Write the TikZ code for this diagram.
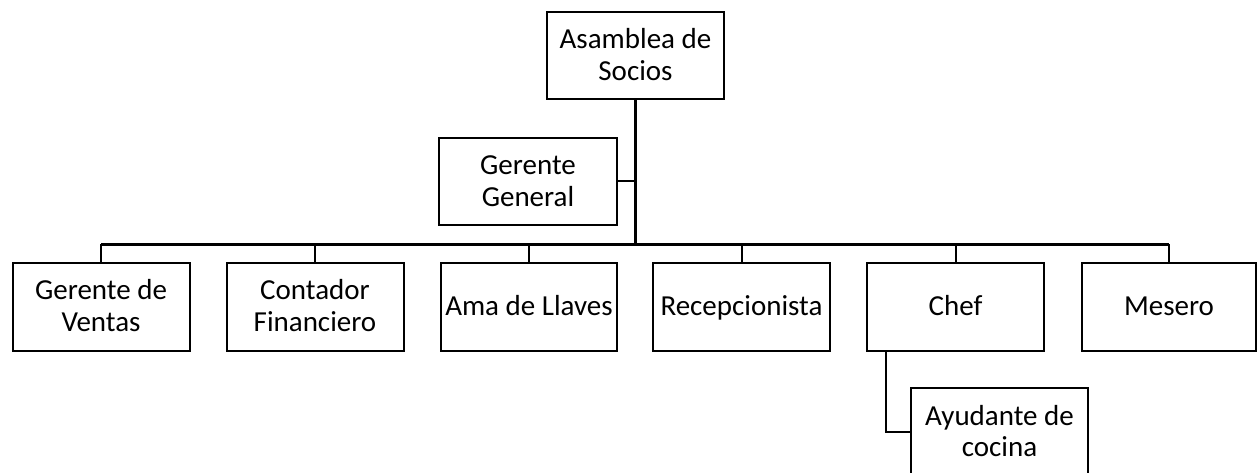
\documentclass[tikz,border=0pt]{standalone}
\usepackage{fontspec}
\setmainfont{Carlito}
\newcommand\mytopstrut{\rule{0pt}{24pt}}
\newcommand\mybotstrut{\rule[-6pt]{0pt}{6pt}}
\begin{document}
\begin{tikzpicture}[x=1pt,y=-1pt,
  orgbox/.style={draw=black,line width=2pt,rectangle,inner sep=0pt,
    minimum width=177pt,minimum height=89pt,align=center,
    font=\fontsize{29}{31.5}\selectfont},
  link/.style={draw=black,line width=2pt},
  trunk/.style={draw=black,line width=3pt}]
\useasboundingbox (0,0) rectangle (1257,473);
\node[orgbox,minimum height=87pt] (asam) at (635.5,55.5) {\mytopstrut Asamblea de\\Socios\mybotstrut};
\node[orgbox,minimum width=178pt,minimum height=87pt] (gg) at (528,181.5) {\mytopstrut Gerente\\General\mybotstrut};
\node[orgbox,minimum height=88pt] (gv) at (101,306.5) {\mytopstrut Gerente de\\Ventas\mybotstrut};
\node[orgbox,minimum height=88pt] (cf) at (315,306.5) {\mytopstrut Contador\\Financiero\mybotstrut};
\node[orgbox,minimum height=88pt,minimum width=176pt] (al) at (529,306.5) {\mytopstrut Ama de Llaves\mybotstrut};
\node[orgbox,minimum height=88pt] (rc) at (741.5,306.5) {\mytopstrut Recepcionista\mybotstrut};
\node[orgbox,minimum height=88pt] (ch) at (955.5,306.5) {\mytopstrut Chef\mybotstrut};
\node[orgbox,minimum height=88pt,minimum width=174pt] (ms) at (1169,306.5) {\mytopstrut Mesero\mybotstrut};
\node[orgbox,minimum height=88pt] (ay) at (999.5,432) {\mytopstrut Ayudante de\\cocina\mybotstrut};
\coordinate (bus) at (0,244);
\coordinate (sub) at (886,0);
\draw[trunk] (asam.south) -- (asam.south |- bus);
\draw[link] (gg.east) -- (gg.east -| asam.south);
\draw[trunk] (gv.north |- bus) -- (ms.north |- bus);
\foreach \n in {gv,cf,al,rc,ch,ms}{
  \draw[link] (\n.north) -- (\n.north |- bus);
}
\draw[link] (sub |- ch.south) -- (sub |- ay.west) -- (ay.west);
\end{tikzpicture}
\end{document}
